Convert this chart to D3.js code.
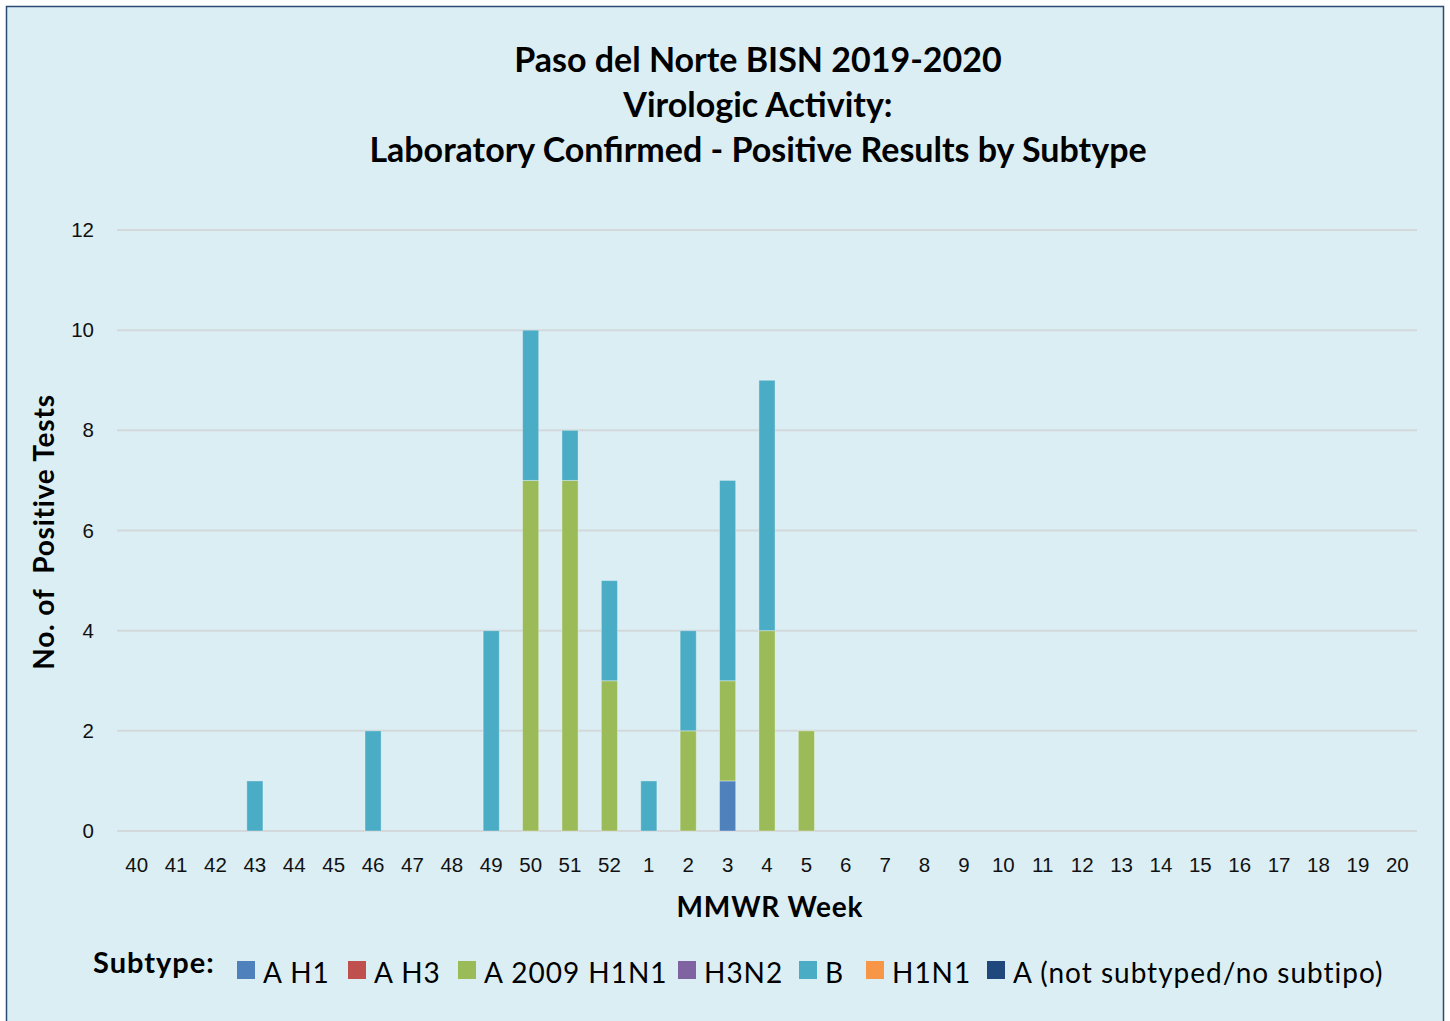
<!DOCTYPE html>
<html>
<head>
<meta charset="utf-8">
<script src="https://cdn.jsdelivr.net/npm/d3@7"></script>
<style>
  body { margin: 0; background: #fff; }
  svg { display: block; font-family: Lato, "Open Sans", sans-serif; }
  .tick text { font-size: 20.5px; fill: #111; }
  .title { font-size: 34px; font-weight: bold; fill: #000; }
  .axis-title { font-size: 28px; font-weight: bold; fill: #000; letter-spacing: 0.8px; }
  .legend-title { font-size: 29px; font-weight: bold; fill: #000; letter-spacing: 1px; }
  .legend-text { font-size: 28px; fill: #000; letter-spacing: 1px; }
</style>
</head>
<body>
<svg id="chart" width="1450" height="1021"></svg>
<script>
const weeks = ["40","41","42","43","44","45","46","47","48","49","50","51","52",
  "1","2","3","4","5","6","7","8","9","10","11","12","13","14","15","16","17","18","19","20"];
const subtypes = ["A H1", "A H3", "A 2009 H1N1", "H3N2", "B", "H1N1", "A (not subtyped/no subtipo)"];
const colors = ["#4f81bd", "#c0504d", "#9bbb59", "#8064a2", "#4bacc6", "#f79646", "#1f497d"];

// values per week, one array per subtype
const aH1 =     [0,0,0,0,0,0,0,0,0,0,0,0,0, 0,0,1,0,0,0,0,0,0,0,0,0,0,0,0,0,0,0,0,0];
const aH3 =     [0,0,0,0,0,0,0,0,0,0,0,0,0, 0,0,0,0,0,0,0,0,0,0,0,0,0,0,0,0,0,0,0,0];
const a2009 =   [0,0,0,0,0,0,0,0,0,0,7,7,3, 0,2,2,4,2,0,0,0,0,0,0,0,0,0,0,0,0,0,0,0];
const h3n2 =    [0,0,0,0,0,0,0,0,0,0,0,0,0, 0,0,0,0,0,0,0,0,0,0,0,0,0,0,0,0,0,0,0,0];
const bVals =   [0,0,0,1,0,0,2,0,0,4,3,1,2, 1,2,4,5,0,0,0,0,0,0,0,0,0,0,0,0,0,0,0,0];
const h1n1 =    [0,0,0,0,0,0,0,0,0,0,0,0,0, 0,0,0,0,0,0,0,0,0,0,0,0,0,0,0,0,0,0,0,0];
const aNotSub = [0,0,0,0,0,0,0,0,0,0,0,0,0, 0,0,0,0,0,0,0,0,0,0,0,0,0,0,0,0,0,0,0,0];
const yTicks = [0, 2, 4, 6, 8, 10, 12];

const series = [aH1, aH3, a2009, h3n2, bVals, h1n1, aNotSub];
const table = weeks.map((w, i) => {
  let row = {week: w};
  subtypes.forEach((s, j) => { row[s] = series[j][i]; });
  return row;
});

const margin = {top: 230, right: 33, bottom: 190, left: 117};
const width = 1450 - margin.left - margin.right;
const height = 1021 - margin.top - margin.bottom;

const svg = d3.select("#chart");

// background panel
svg.append("rect")
  .attr("x", 6.5).attr("y", 6.5)
  .attr("width", 1437).attr("height", 1020)
  .attr("fill", "#dbeef4")
  .attr("stroke", "#2c4a76")
  .attr("stroke-width", 1.5);

const chart = svg.append("g")
  .attr("transform", "translate(" + margin.left + "," + margin.top + ")");

const x = d3.scaleBand().domain(weeks).range([0, width]).paddingInner(0.59).paddingOuter(0.295);
const y = d3.scaleLinear().domain([0, 12]).range([height, 0]);

// gridlines
chart.append("g")
  .selectAll("line")
  .data(yTicks)
  .enter().append("line")
  .attr("x1", 0).attr("x2", width)
  .attr("y1", d => y(d)).attr("y2", d => y(d))
  .attr("stroke", "#d3d8da")
  .attr("stroke-width", 2);

// bars
const stack = d3.stack().keys(subtypes)(table);
chart.append("g")
  .selectAll("g")
  .data(stack)
  .enter().append("g")
  .attr("fill", (d, i) => colors[i])
  .selectAll("rect")
  .data(d => d.filter(p => p[1] - p[0] > 0))
  .enter().append("rect")
  .attr("x", d => x(d.data.week))
  .attr("y", d => y(d[1]))
  .attr("width", x.bandwidth())
  .attr("height", d => y(d[0]) - y(d[1]))
  .attr("stroke", "rgba(255,255,255,0.35)")
  .attr("stroke-width", 1);

// axes
const xAxis = chart.append("g")
  .attr("transform", "translate(0," + height + ")")
  .call(d3.axisBottom(x).tickSize(0).tickPadding(26));
xAxis.select(".domain").remove();

const yAxis = chart.append("g")
  .call(d3.axisLeft(y).tickValues(yTicks).tickSize(0).tickPadding(23));
yAxis.select(".domain").remove();
yAxis.selectAll(".tick text").attr("dy", "0.32em");

// titles
const titles = ["Paso del Norte BISN 2019-2020", "Virologic Activity:", "Laboratory Confirmed - Positive Results by Subtype"];
svg.append("g").selectAll("text")
  .data(titles)
  .enter().append("text")
  .attr("class", "title")
  .attr("x", 758)
  .attr("y", (d, i) => 72 + i * 45)
  .attr("text-anchor", "middle")
  .text(d => d);

svg.append("text")
  .attr("class", "axis-title")
  .attr("x", 770).attr("y", 917)
  .attr("text-anchor", "middle")
  .text("MMWR Week");

svg.append("text")
  .attr("class", "axis-title")
  .attr("transform", "translate(54,532) rotate(-90)")
  .attr("text-anchor", "middle")
  .style("white-space", "pre")
  .text("No. of  Positive Tests");

// legend
const legend = svg.append("g").attr("transform", "translate(0,972)");
legend.append("text")
  .attr("class", "legend-title")
  .attr("x", 93).attr("y", 1)
  .text("Subtype:");
const legendX = [237, 348, 458, 678, 799, 866, 987];
const item = legend.selectAll(".item")
  .data(subtypes)
  .enter().append("g")
  .attr("class", "item")
  .attr("transform", (d, i) => "translate(" + legendX[i] + ",0)");
item.append("rect")
  .attr("x", 0).attr("y", -11)
  .attr("width", 18).attr("height", 18)
  .attr("fill", (d, i) => colors[i]);
item.append("text")
  .attr("class", "legend-text")
  .attr("x", 26).attr("y", 11)
  .text(d => d);
</script>
</body>
</html>
